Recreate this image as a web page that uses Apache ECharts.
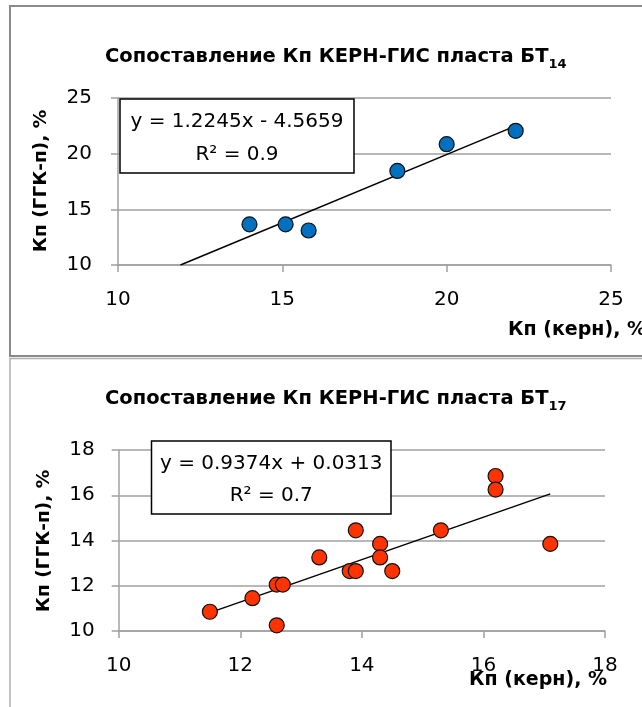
<!DOCTYPE html>
<html>
<head>
<meta charset="utf-8">
<script src="https://cdn.jsdelivr.net/npm/echarts@6/dist/echarts.min.js"></script>
<style>
html,body{margin:0;padding:0;background:#fff;}
#chart{width:642px;height:707px;}
</style>
</head>
<body>
<div id="chart"></div>
<script>
// ---- Data ----
var bt14X = [14.0, 15.1, 15.8, 18.5, 20.0, 22.1];
var bt14Y = [13.65, 13.65, 13.1, 18.45, 20.85, 22.05];
var bt14Slope = 1.2245, bt14Intercept = -4.5659, bt14R2 = 0.9;
var bt14TrendX = [11.9, 22.1];

var bt17X = [11.5, 12.2, 12.6, 12.6, 12.7, 13.3, 13.8, 13.9, 13.9, 14.3, 14.3, 14.5, 15.3, 16.2, 16.2, 17.1];
var bt17Y = [10.85, 11.45, 10.25, 12.05, 12.05, 13.25, 12.65, 12.65, 14.45, 13.85, 13.25, 12.65, 14.45, 16.85, 16.25, 13.85];
var bt17Slope = 0.9374, bt17Intercept = 0.0313, bt17R2 = 0.7;
var bt17TrendX = [11.5, 17.1];

var xTicks14 = {min: 10, max: 25, interval: 5};
var yTicks14 = {min: 10, max: 25, interval: 5};
var xTicks17 = {min: 10, max: 18, interval: 2};
var yTicks17 = {min: 10, max: 18, interval: 2};

var title14 = 'Сопоставление Кп КЕРН-ГИС пласта БТ', sub14 = '14';
var title17 = 'Сопоставление Кп КЕРН-ГИС пласта БТ', sub17 = '17';
var xName = 'Кп (керн), %';
var yName = 'Кп (ГГК-п), %';

// ---- Build ----
function pts(xs, ys){ return xs.map(function(x,i){ return [x, ys[i]]; }); }
function trend(xr, k, b){ return xr.map(function(x){ return [x, k*x + b]; }); }
function fmtEq(k, b){
  return 'y = ' + k.toFixed(4) + 'x ' + (b < 0 ? '- ' : '+ ') + Math.abs(b).toFixed(4);
}

var FONT = 'DejaVu Sans';
var gridColor = '#a0a0a0';

function xAxisCfg(idx, t){
  return {
    type: 'value', gridIndex: idx, min: t.min, max: t.max, interval: t.interval,
    axisLine: {show: true, lineStyle: {color: gridColor, width: 1.5}},
    axisTick: {show: true, inside: false, length: 7, lineStyle: {color: gridColor, width: 1.5}},
    splitLine: {show: false},
    axisLabel: {color: '#000', fontFamily: FONT, fontSize: 20, margin: 25}
  };
}
function yAxisCfg(idx, t, margin){
  return {
    type: 'value', gridIndex: idx, min: t.min, max: t.max, interval: t.interval,
    axisLine: {show: true, lineStyle: {color: gridColor, width: 1.5}},
    axisTick: {show: true, inside: false, length: 7, lineStyle: {color: gridColor, width: 1.5}},
    splitLine: {show: true, lineStyle: {color: gridColor, width: 1.5}},
    axisLabel: {color: '#000', fontFamily: FONT, fontSize: 20, margin: margin}
  };
}
function titleCfg(main, sub, top){
  return {
    text: '{a|' + main + '}{b|' + sub + '}',
    left: 100, top: top,
    textStyle: {
      rich: {
        a: {fontFamily: FONT, fontWeight: 'bold', fontSize: 19.5, color: '#000', lineHeight: 28, verticalAlign: 'middle'},
        b: {fontFamily: FONT, fontWeight: 'bold', fontSize: 13, color: '#000', lineHeight: 13, verticalAlign: 'bottom'}
      }
    }
  };
}
function eqBox(x, y, w, h, k, b, r2){
  return [
    {type: 'rect', z: 100, shape: {x: x, y: y, width: w, height: h},
     style: {fill: '#fff', stroke: '#000', lineWidth: 1.5}},
    {type: 'text', z: 101, x: x + w/2, y: y + h*0.31,
     style: {text: fmtEq(k, b), fontFamily: FONT, fontSize: 20, fill: '#000', align: 'center', verticalAlign: 'middle'}},
    {type: 'text', z: 101, x: x + w/2, y: y + h*0.75,
     style: {text: 'R² = ' + r2, fontFamily: FONT, fontSize: 20, fill: '#000', align: 'center', verticalAlign: 'middle'}}
  ];
}

var graphics = [
  {type: 'rect', z: 0, shape: {x: 10, y: 6, width: 700, height: 350}, style: {fill: 'none', stroke: '#8a8a8a', lineWidth: 2}},
  {type: 'rect', z: 0, shape: {x: 10, y: 358.5, width: 700, height: 400}, style: {fill: 'none', stroke: '#b0b0b0', lineWidth: 1.5}},
  {type: 'text', z: 101, x: 41, y: 181, rotation: Math.PI/2,
   style: {text: yName, fontFamily: FONT, fontWeight: 'bold', fontSize: 18.5, fill: '#000', align: 'center', verticalAlign: 'middle'}},
  {type: 'text', z: 101, x: 44, y: 541, rotation: Math.PI/2,
   style: {text: yName, fontFamily: FONT, fontWeight: 'bold', fontSize: 18.5, fill: '#000', align: 'center', verticalAlign: 'middle'}},
  {type: 'text', z: 101, x: 508, y: 330,
   style: {text: xName, fontFamily: FONT, fontWeight: 'bold', fontSize: 19, fill: '#000', align: 'left', verticalAlign: 'middle'}},
  {type: 'text', z: 101, x: 469, y: 680,
   style: {text: xName, fontFamily: FONT, fontWeight: 'bold', fontSize: 19, fill: '#000', align: 'left', verticalAlign: 'middle'}}
].concat(eqBox(120, 99, 234, 74, bt14Slope, bt14Intercept, bt14R2))
 .concat(eqBox(151.5, 441, 239.5, 73, bt17Slope, bt17Intercept, bt17R2));

var option = {
  animation: false,
  backgroundColor: '#fff',
  title: [titleCfg(title14, sub14, 38), titleCfg(title17, sub17, 380)],
  grid: [
    {left: 118, top: 98, width: 493, height: 167},
    {left: 118.7, top: 450, width: 486.3, height: 181}
  ],
  xAxis: [xAxisCfg(0, xTicks14), xAxisCfg(1, xTicks17)],
  yAxis: [yAxisCfg(0, yTicks14, 26), yAxisCfg(1, yTicks17, 24)],
  series: [
    {type: 'line', xAxisIndex: 0, yAxisIndex: 0, data: trend(bt14TrendX, bt14Slope, bt14Intercept),
     symbol: 'none', lineStyle: {color: '#000', width: 1.5}, z: 2},
    {type: 'scatter', xAxisIndex: 0, yAxisIndex: 0, data: pts(bt14X, bt14Y), symbolSize: 15,
     itemStyle: {color: '#0070c0', borderColor: '#111', borderWidth: 1.2, opacity: 1}, z: 3},
    {type: 'line', xAxisIndex: 1, yAxisIndex: 1, data: trend(bt17TrendX, bt17Slope, bt17Intercept),
     symbol: 'none', lineStyle: {color: '#000', width: 1.5}, z: 2},
    {type: 'scatter', xAxisIndex: 1, yAxisIndex: 1, data: pts(bt17X, bt17Y), symbolSize: 15,
     itemStyle: {color: '#ff3300', borderColor: '#111', borderWidth: 1.2, opacity: 1}, z: 3}
  ],
  graphic: graphics
};

var chart = echarts.init(document.getElementById('chart'), null, {renderer: 'canvas'});
chart.setOption(option);
</script>
</body>
</html>
